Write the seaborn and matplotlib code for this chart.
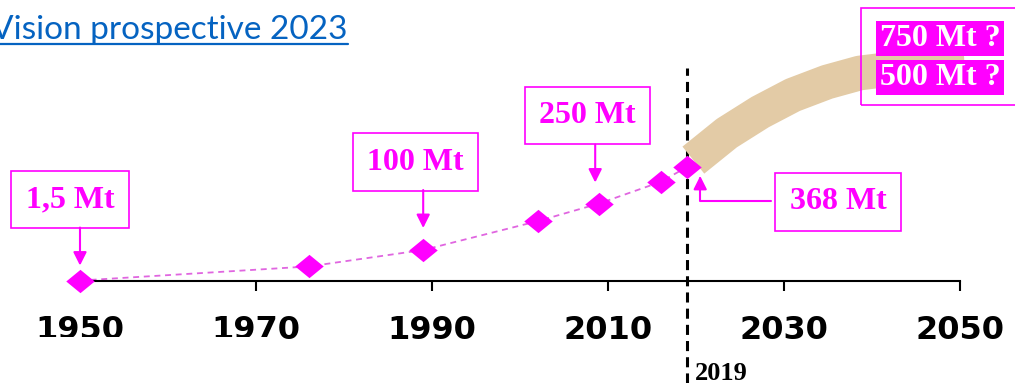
import matplotlib
matplotlib.use("Agg")
import matplotlib.pyplot as plt
from matplotlib.lines import Line2D
from matplotlib.patches import Rectangle
from matplotlib.transforms import offset_copy
import pandas as pd
import seaborn as sns

# Global plastics production (million tonnes)
years = [1950, 1976, 1989, 2002, 2009, 2016, 2019]
production_mt = [1.5, 47, 100, 193, 250, 320, 368]

# Milestones called out with boxed labels
milestone_years = [1950, 1989, 2009]
milestone_labels = ["1,5 Mt", "100 Mt", "250 Mt"]
latest_year = 2019
latest_label = "368 Mt"

# Outlook band towards 2050
outlook_years = [2019.7, 2023.5, 2027.3, 2031.0, 2034.9, 2038.6, 2043.2, 2047.0, 2050.5]
outlook_mt = [390, 477, 545, 600, 642, 671, 687, 697, 702]
scenario_labels = ["750 Mt ?", "500 Mt ?"]

tick_years = [1950, 1970, 1990, 2010, 2030, 2050]
title_text = "Vision prospective 2023"

MAGENTA = "#FF00FF"
TAN = "#E3CBA6"
BLUE = "#0563C1"
W, H = 1015, 383

sns.set_style("white")
plt.rcParams["font.family"] = ["DejaVu Sans"]

hist = pd.DataFrame({"year": years, "mt": production_mt})
outlook = pd.DataFrame({"year": outlook_years, "mt": outlook_mt})

fig = plt.figure(figsize=(W / 100, H / 100), dpi=100)
ax = fig.add_axes([0, 0, 1, 1])
ax.set_xlim(1940.91, 2056.25)
ax.set_ylim(-329, 906.5)

# reference year marker
ax.axvline(latest_year, ymin=0, ymax=(H - 68) / H, color="black", lw=2.2,
           linestyle=(0, (3.3, 2.0)), zorder=1)

# trend line and outlook band
sns.lineplot(data=hist, x="year", y="mt", ax=ax, color="#E066E0", lw=1.3,
             linestyle=(0, (3.3, 2.6)), zorder=2)
sns.lineplot(data=outlook, x="year", y="mt", ax=ax, color=TAN, lw=25,
             solid_capstyle="butt", zorder=3)

# diamonds
diamond = [(-1, 0), (0, 0.82), (1, 0), (0, -0.82), (-1, 0)]
sns.scatterplot(data=hist, x="year", y="mt", ax=ax, marker=diamond, s=420,
                color=MAGENTA, linewidth=0, zorder=5)

box_font = dict(fontfamily="Liberation Serif", fontweight="bold", fontsize=23,
                color=MAGENTA, ha="center", va="center")
box_style = dict(boxstyle="square,pad=0.45", fc="white", ec=MAGENTA, lw=1.2)
arrow_style = dict(arrowstyle="-|>", color=MAGENTA, lw=1.5, mutation_scale=20,
                   shrinkA=0, shrinkB=0)

lookup = dict(zip(years, production_mt))
box_offsets = [(-10, 81), (-8, 88), (-12, 88)]
arrow_specs = [(0, 15, 53), (0, 22, 60), (-4, 21, 59)]
for yr, lab, (bx, by), (adx, tip, start) in zip(milestone_years, milestone_labels,
                                               box_offsets, arrow_specs):
    val = lookup[yr]
    ax.annotate(lab, xy=(yr, val), xytext=(bx, by), textcoords="offset pixels",
                bbox=box_style, zorder=6, **box_font)
    tip_tr = offset_copy(ax.transData, fig=fig, x=adx, y=tip, units="dots")
    ax.annotate("", xy=(yr, val), xycoords=tip_tr, xytext=(0, start - tip),
                textcoords="offset pixels", arrowprops=arrow_style, zorder=6)

# latest value with elbow arrow
val = lookup[latest_year]
ax.annotate(latest_label, xy=(latest_year, val), xytext=(151, -35),
            textcoords="offset pixels", bbox=box_style, zorder=6, **box_font)
tip_tr = offset_copy(ax.transData, fig=fig, x=13, y=-9, units="dots")
ax.annotate("", xy=(latest_year, val), xycoords=tip_tr, xytext=(71, -25),
            textcoords="offset pixels", zorder=6,
            arrowprops=dict(arrow_style, connectionstyle="angle,angleA=0,angleB=90,rad=0"))

# year tag under the reference line
ax.annotate(str(latest_year), xy=(latest_year, 3 / H), xycoords=ax.get_xaxis_transform(),
            xytext=(8, 0), textcoords="offset pixels", ha="left", va="baseline",
            fontfamily="Liberation Serif", fontweight="bold", fontsize=19, color="black")

# 2050 scenarios
fig.add_artist(Rectangle((861 / W, 1 - 105 / H), 170 / W, 97 / H, fill=False,
                         ec=MAGENTA, lw=1.2, zorder=7))
for lab, yc in zip(scenario_labels, [38.5, 77.5]):
    fig.text(940 / W, 1 - yc / H, lab, fontfamily="Liberation Serif", fontweight="bold",
             fontsize=23, color="white", ha="center", va="center", zorder=8,
             bbox=dict(boxstyle="square,pad=0.1", fc=MAGENTA, ec="none"))

# axis styling
for side in ["top", "left", "right"]:
    ax.spines[side].set_visible(False)
ax.spines["bottom"].set_position(("data", 0))
ax.spines["bottom"].set_bounds(1950, 2050)
ax.spines["bottom"].set_linewidth(1.5)
ax.spines["bottom"].set_color("black")
ax.spines["bottom"].set_zorder(4)
ax.set_yticks([])
ax.set_xticks(tick_years)
ax.set_xticklabels([str(t) for t in tick_years], fontfamily="DejaVu Sans",
                   fontweight="bold", fontsize=23)
ax.tick_params(axis="x", direction="out", length=7.5, width=1.5, pad=17,
               colors="black", bottom=True)
ax.set_xlabel("")
ax.set_ylabel("")
ax.grid(False)
if ax.get_legend():
    ax.get_legend().remove()

# heading with underline
title = fig.text(-9 / W, 1 - 39 / H, title_text, fontfamily="Lato", fontsize=24,
                 color=BLUE, ha="left", va="baseline")
fig.canvas.draw()
bb = title.get_window_extent()
fig.add_artist(Line2D([0, bb.x1 / W], [1 - 44 / H] * 2, color=BLUE, lw=1.6))

# strip masking the lower edge of the first labels
fig.add_artist(Rectangle((30 / W, 0), 240 / W, (H - 337) / H, fc="white", ec="none",
                         zorder=10))

fig.savefig("out.png", dpi=100)
